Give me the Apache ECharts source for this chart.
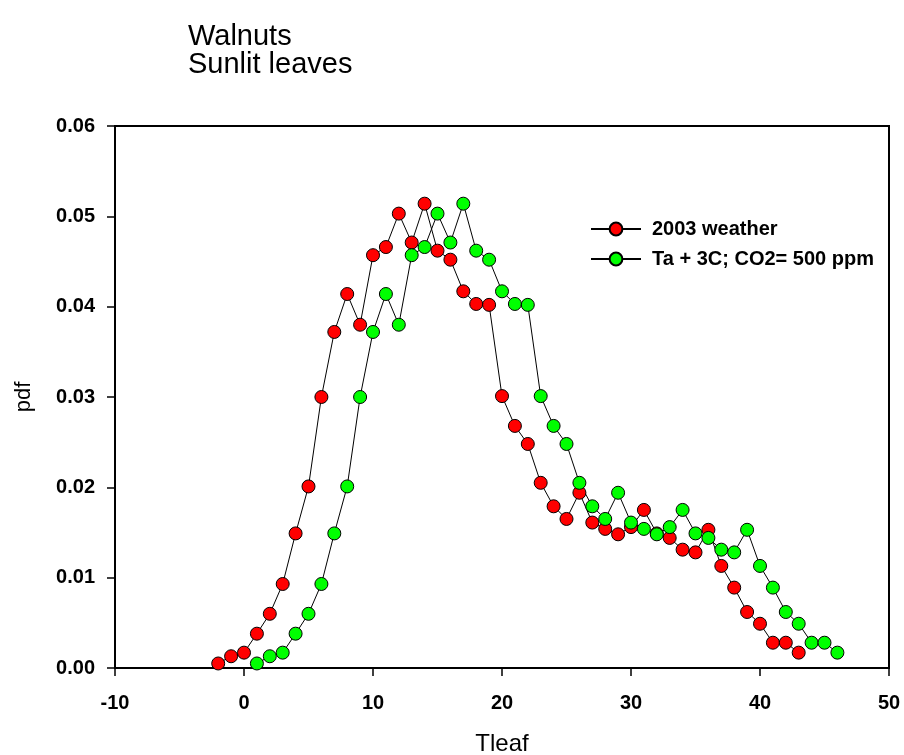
<!DOCTYPE html>
<html>
<head>
<meta charset="utf-8">
<script src="https://cdn.jsdelivr.net/npm/echarts@6/dist/echarts.min.js"></script>
<style>html,body{margin:0;padding:0;background:#fff}#c{width:904px;height:755px}</style>
</head>
<body>
<div id="c"></div>
<script>
const xTicks = [-10, 0, 10, 20, 30, 40, 50];
const yTicks = [0, 0.01, 0.02, 0.03, 0.04, 0.05, 0.06];

const tleaf2003 = [-2,-1,0,1,2,3,4,5,6,7,8,9,10,11,12,13,14,15,16,17,18,19,20,21,22,23,24,25,26,27,28,29,30,31,32,33,34,35,36,37,38,39,40,41,42,43];
const pdf2003 = [0.0005,0.0013,0.0017,0.0038,0.0060,0.0093,0.0149,0.0201,0.0300,0.0372,0.0414,0.0380,0.0457,0.0466,0.0503,0.0471,0.0514,0.0462,0.0452,0.0417,0.0403,0.0402,0.0301,0.0268,0.0248,0.0205,0.0179,0.0165,0.0194,0.0161,0.0154,0.0148,0.0156,0.0175,0.0149,0.0144,0.0131,0.0128,0.0153,0.0113,0.0089,0.0062,0.0049,0.0028,0.0028,0.0017];

const tleafWarm = [1,2,3,4,5,6,7,8,9,10,11,12,13,14,15,16,17,18,19,20,21,22,23,24,25,26,27,28,29,30,31,32,33,34,35,36,37,38,39,40,41,42,43,44,45,46];
const pdfWarm = [0.0005,0.0013,0.0017,0.0038,0.0060,0.0093,0.0149,0.0201,0.0300,0.0372,0.0414,0.0380,0.0457,0.0466,0.0503,0.0471,0.0514,0.0462,0.0452,0.0417,0.0403,0.0402,0.0301,0.0268,0.0248,0.0205,0.0179,0.0165,0.0194,0.0161,0.0154,0.0148,0.0156,0.0175,0.0149,0.0144,0.0131,0.0128,0.0153,0.0113,0.0089,0.0062,0.0049,0.0028,0.0028,0.0017];

const seriesNames = ['2003 weather', 'Ta + 3C; CO2= 500 ppm'];

const FONT = '"Liberation Sans", Arial, sans-serif';
const chart = echarts.init(document.getElementById('c'), null, {renderer: 'canvas'});

function pairs(xs, ys) { return xs.map((x, i) => [x, ys[i]]); }

chart.setOption({
  animation: false,
  backgroundColor: '#fff',
  title: {
    text: 'Walnuts\nSunlit leaves',
    left: 183, top: 18,
    textStyle: {fontFamily: FONT, fontSize: 29, fontWeight: 'normal', color: '#000', lineHeight: 28}
  },
  legend: {
    left: 585, top: 214,
    orient: 'vertical',
    itemWidth: 50, itemHeight: 16, itemGap: 10,
    data: seriesNames,
    textStyle: {fontFamily: FONT, fontSize: 20, fontWeight: 'bold', color: '#000', lineHeight: 16, padding: [0, 0, 0, 6]}
  },
  grid: {left: 115, top: 126, width: 774, height: 542, show: true, borderColor: '#000', borderWidth: 2,
    backgroundColor: 'transparent', outerBoundsMode: 'none', containLabel: false},
  xAxis: {
    type: 'value', min: -10, max: 50, interval: 10,
    name: 'Tleaf', nameLocation: 'middle', nameGap: 64,
    nameTextStyle: {fontFamily: FONT, fontSize: 24, color: '#000'},
    axisLine: {show: true, onZero: false, lineStyle: {color: '#000', width: 2}},
    axisTick: {show: true, inside: false, length: 8, lineStyle: {color: '#000', width: 1.5}},
    axisLabel: {margin: 25, fontFamily: FONT, fontSize: 20, fontWeight: 'bold', color: '#000',
      formatter: v => xTicks.includes(v) ? String(v) : ''},
    splitLine: {show: false}
  },
  yAxis: {
    type: 'value', min: 0, max: 0.06, interval: 0.01,
    name: 'pdf', nameLocation: 'middle', nameGap: 80,
    nameTextStyle: {fontFamily: FONT, fontSize: 22, color: '#000'},
    axisLine: {show: true, onZero: false, lineStyle: {color: '#000', width: 2}},
    axisTick: {show: true, inside: false, length: 8, lineStyle: {color: '#000', width: 1.5}},
    axisLabel: {margin: 20, fontFamily: FONT, fontSize: 20, fontWeight: 'bold', color: '#000',
      formatter: v => v.toFixed(2)},
    splitLine: {show: false}
  },
  series: [
    {
      name: seriesNames[0], type: 'line', data: pairs(tleaf2003, pdf2003),
      symbol: 'circle', symbolSize: 13, showAllSymbol: true,
      lineStyle: {color: '#000', width: 1},
      itemStyle: {color: '#ff0000', borderColor: '#000', borderWidth: 1}
    },
    {
      name: seriesNames[1], type: 'line', data: pairs(tleafWarm, pdfWarm),
      symbol: 'circle', symbolSize: 13, showAllSymbol: true,
      lineStyle: {color: '#000', width: 1},
      itemStyle: {color: '#00ff00', borderColor: '#000', borderWidth: 1}
    }
  ]
});
</script>
</body>
</html>
